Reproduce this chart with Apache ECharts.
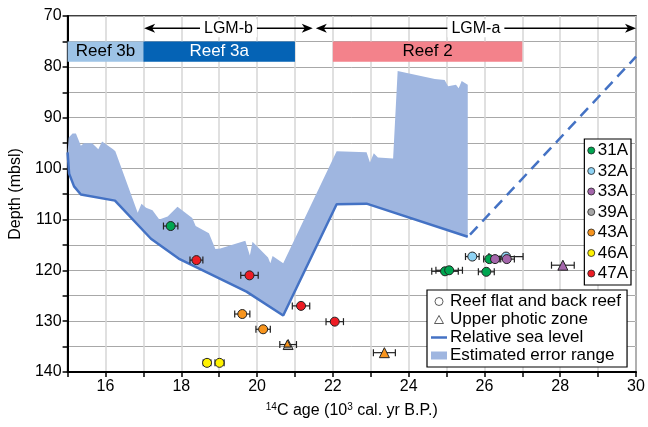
<!DOCTYPE html>
<html>
<head>
<meta charset="utf-8">
<script src="https://cdn.jsdelivr.net/npm/echarts@6/dist/echarts.min.js"></script>
<style>
  html, body { margin: 0; padding: 0; background: #fff; }
  #chart { width: 648px; height: 427px; }
</style>
</head>
<body>
<div id="chart"></div>
<script>
// relative sea level, [age (ka), depth (m)]
const seaLevel = [
  [15.0, 96.8], [15.04, 101.0], [15.17, 103.5], [15.35, 105.1], [16.25, 106.3],
  [17.2, 113.8], [17.93, 117.7], [19.72, 124.2], [20.69, 128.9], [22.1, 107.0],
  [22.89, 106.9], [25.56, 113.4]
]
const seaLevelProjected = [[25.62, 113.0], [30, 78]]

// upper edge of the estimated error range
const errorTop = [
  [15.0, 96.8], [15.03, 93.9], [15.13, 93.1], [15.22, 93.1], [15.35, 95.5], [15.43, 95.0],
  [15.65, 95.0], [15.81, 96.2], [15.91, 94.7], [16.2, 96.2], [16.26, 96.6], [16.85, 108.7],
  [16.95, 106.9], [17.07, 107.7], [17.24, 108.2], [17.42, 110.0], [17.64, 109.4], [17.9, 107.5],
  [18.29, 109.7], [18.38, 111.3], [18.73, 112.7], [18.9, 115.8], [19.03, 115.7], [19.69, 114.2],
  [19.81, 117.1], [19.88, 114.4], [20.29, 117.5], [20.35, 118.6], [20.41, 117.2], [20.69, 118.6],
  [22.1, 96.6], [22.89, 96.8], [22.98, 98.8], [23.08, 97.0], [23.19, 97.8], [23.59, 98.0],
  [23.71, 80.8], [24.69, 82.4], [24.95, 82.6], [25.04, 83.8], [25.25, 83.5], [25.32, 84.2],
  [25.4, 82.8], [25.56, 83.5], [25.56, 113.4]
]

// samples, [age, depth, age error] -- reef flat / back reef (circles)
const s31A = [[17.72, 111.3, 0.19], [24.96, 120.2, 0.35], [25.07, 120.0, 0.35], [26.05, 120.3, 0.21], [26.13, 117.8, 0.15]]
const s32A = [[25.68, 117.3, 0.18], [26.57, 117.3, 0.45]]
const s33A = [[26.28, 117.8, 0.15], [26.59, 117.8, 0.2]]
const s39A = []
const s43A = [[19.61, 128.6, 0.2], [20.16, 131.6, 0.19]]
const s46A = [[18.68, 138.2, 0.1], [19.01, 138.2, 0.12]]
const s47A = [[18.4, 118.0, 0.17], [19.8, 121.0, 0.23], [21.16, 127.0, 0.23], [22.05, 130.1, 0.23]]
// upper photic zone (triangles)
const u33A = [[28.07, 119.0, 0.3]]
const u39A = [[20.82, 134.6, 0.22]]
const u43A = [[20.8, 134.4, 0], [23.36, 136.2, 0.29]]

const sampleNames = ['31A', '32A', '33A', '39A', '43A', '46A', '47A']
const sampleColors = ['#00a651', '#8fd3f4', '#a466ab', '#a6a6a6', '#f7941d', '#fff200', '#ed1c24']
const reefPts = [s31A, s32A, s33A, s39A, s43A, s46A, s47A]
const upzPts = [[], [], u33A, u39A, u43A, [], []]

// reef units and LGM phases
const reefNames = ['Reef 3b', 'Reef 3a', 'Reef 2']
const reefStart = [15, 17, 22]
const reefEnd = [17, 21, 27]
const reefColors = ['#9dc3e6', '#0563b5', '#f3828b']
const reefText = ['#000', '#fff', '#000']
const lgmNames = ['LGM-b', 'LGM-a']
const lgmStart = [17.02, 21.55]
const lgmEnd = [21.47, 30]

const font = 'Liberation Sans, Arial, sans-serif'
const chart = echarts.init(document.getElementById('chart'))

const errBars = []
reefPts.concat(upzPts).forEach(list => list.forEach(p => { if (p[2] > 0) errBars.push(p) }))

const sampleSeries = sampleNames.map((name, i) => ({
  name,
  type: 'scatter',
  symbol: 'circle',
  symbolSize: 9,
  z: 5,
  itemStyle: { color: sampleColors[i], borderColor: '#222', borderWidth: 1, opacity: 1 },
  data: reefPts[i].map(p => ({ value: [p[0], p[1]] }))
    .concat(upzPts[i].map((p, k) => ({
      value: [p[0], p[1]],
      symbol: 'triangle',
      symbolSize: (name === '43A' && k === 0) ? 7 : 10
    })))
}))

const option = {
  animation: false,
  textStyle: { fontFamily: font },
  grid: { left: 66, right: 12, top: 16, bottom: 55, show: true, borderColor: '#000', borderWidth: 1.5 },
  xAxis: {
    type: 'value', min: 15, max: 30, interval: 1,
    name: '{sup|14}C age (10{sup|3} cal. yr B.P.)',
    nameLocation: 'middle', nameGap: 30,
    nameTextStyle: {
      fontSize: 16, color: '#000',
      rich: { sup: { fontSize: 10, padding: [0, 0, 8, 0], color: '#000' } }
    },
    axisLine: { lineStyle: { color: '#000', width: 2 } },
    axisTick: { length: 5, lineStyle: { color: '#000', width: 1.5 } },
    axisLabel: { fontSize: 16, color: '#000', margin: 7, formatter: v => (v % 2 === 0 ? v : '') },
    splitLine: { lineStyle: { color: '#d6d6d6', width: 1.5 } }
  },
  yAxis: {
    type: 'value', min: 70, max: 140, interval: 5, inverse: true,
    name: 'Depth (mbsl)', nameLocation: 'middle', nameGap: 40,
    nameTextStyle: { fontSize: 16, color: '#000' },
    axisLine: { lineStyle: { color: '#000', width: 2 } },
    axisTick: { length: 5, lineStyle: { color: '#000', width: 1.5 } },
    axisLabel: { fontSize: 16, color: '#000', margin: 6, formatter: v => (v % 10 === 0 ? v : '') },
    splitLine: { lineStyle: { color: '#a8a8a8', width: 1 } }
  },
  legend: [
    {
      data: sampleNames,
      orient: 'vertical', right: 17, top: 139,
      backgroundColor: '#fff', borderColor: '#000', borderWidth: 1.2,
      padding: [3, 3, 3, 3], itemGap: 3.5, itemWidth: 7, itemHeight: 7, icon: 'circle',
      itemStyle: { borderWidth: 0.8 },
      textStyle: { fontSize: 17, color: '#000', padding: [0, 0, 0, -2] }
    },
    {
      data: [
        { name: 'Reef flat and back reef', icon: 'path://M5,0A5,5,0,1,1,5,10A5,5,0,1,1,5,0Z' },
        { name: 'Upper photic zone', icon: 'path://M5,0L10,9L0,9Z' },
        { name: 'Relative sea level', icon: 'path://M0,0L16,0L16,2.5L0,2.5Z', itemStyle: { color: '#4472c4', borderWidth: 0 } },
        { name: 'Estimated error range', icon: 'rect' }
      ],
      orient: 'vertical', left: 427, top: 290,
      backgroundColor: '#fff', borderColor: '#000', borderWidth: 1.2,
      padding: [3, 6, 3, 4], itemGap: 1, itemWidth: 16, itemHeight: 8,
      itemStyle: { borderWidth: 0.8 },
      textStyle: { fontSize: 17, color: '#000', padding: [0, 0, 0, -2] }
    }
  ],
  series: [
    {
      name: 'Estimated error range',
      type: 'custom',
      z: 1,
      itemStyle: { color: '#9fb6e0' },
      data: [[15, 96.8]],
      renderItem: (params, api) => {
        const pts = errorTop.concat(seaLevel.slice().reverse()).map(p => api.coord(p))
        return { type: 'polygon', shape: { points: pts }, style: { fill: '#9fb6e0' } }
      }
    },
    {
      name: 'Relative sea level',
      type: 'line',
      z: 2,
      symbol: 'none',
      data: seaLevel,
      itemStyle: { color: '#4472c4' },
      lineStyle: { color: '#4472c4', width: 2.5 }
    },
    {
      type: 'line',
      z: 2,
      symbol: 'none',
      data: seaLevelProjected,
      lineStyle: { color: '#4472c4', width: 2.5, type: [11, 7] }
    },
    {
      name: 'Reef flat and back reef',
      type: 'scatter', data: [],
      itemStyle: { color: '#fff', borderColor: '#000', borderWidth: 1 }
    },
    {
      name: 'Upper photic zone',
      type: 'scatter', data: [],
      itemStyle: { color: '#fff', borderColor: '#000', borderWidth: 1 }
    },
    {
      type: 'custom',
      z: 3,
      data: reefNames.map((n, i) => [reefStart[i], reefEnd[i], i]),
      renderItem: (params, api) => {
        const i = api.value(2)
        const a = api.coord([api.value(0), 75])
        const b = api.coord([api.value(1), 79])
        return {
          type: 'group',
          children: [
            { type: 'rect', shape: { x: a[0], y: a[1], width: b[0] - a[0], height: b[1] - a[1] }, style: { fill: reefColors[i] } },
            {
              type: 'text', x: (a[0] + b[0]) / 2, y: (a[1] + b[1]) / 2,
              style: { text: reefNames[i], fill: reefText[i], font: '17px ' + font, align: 'center', verticalAlign: 'middle' }
            }
          ]
        }
      }
    },
    {
      type: 'custom',
      z: 3,
      data: lgmNames.map((n, i) => [lgmStart[i], lgmEnd[i], i]),
      renderItem: (params, api) => {
        const i = api.value(2)
        const a = api.coord([api.value(0), 72.4])
        const b = api.coord([api.value(1), 72.4])
        const L = 11, W = 4.5
        return {
          type: 'group',
          children: [
            { type: 'line', shape: { x1: a[0] + 4, y1: a[1], x2: b[0] - 4, y2: b[1] }, style: { stroke: '#000', lineWidth: 1.5 } },
            { type: 'polygon', shape: { points: [[a[0], a[1]], [a[0] + L, a[1] - W], [a[0] + L - 3, a[1]], [a[0] + L, a[1] + W]] }, style: { fill: '#000' } },
            { type: 'polygon', shape: { points: [[b[0], b[1]], [b[0] - L, b[1] - W], [b[0] - L + 3, b[1]], [b[0] - L, b[1] + W]] }, style: { fill: '#000' } },
            {
              type: 'text', x: (a[0] + b[0]) / 2, y: a[1],
              style: {
                text: lgmNames[i], fill: '#000', font: '16px ' + font, align: 'center', verticalAlign: 'middle',
                backgroundColor: '#fff', padding: [1, 4]
              }
            }
          ]
        }
      }
    },
    {
      type: 'custom',
      z: 4,
      data: errBars,
      renderItem: (params, api) => {
        const y = api.value(1)
        const a = api.coord([api.value(0) - api.value(2), y])
        const b = api.coord([api.value(0) + api.value(2), y])
        const h = 3.5
        const st = { stroke: '#222', lineWidth: 1.2 }
        return {
          type: 'group',
          children: [
            { type: 'line', shape: { x1: a[0], y1: a[1], x2: b[0], y2: b[1] }, style: st },
            { type: 'line', shape: { x1: a[0], y1: a[1] - h, x2: a[0], y2: a[1] + h }, style: st },
            { type: 'line', shape: { x1: b[0], y1: b[1] - h, x2: b[0], y2: b[1] + h }, style: st }
          ]
        }
      }
    }
  ].concat(sampleSeries)
}

chart.setOption(option)
</script>
</body>
</html>
